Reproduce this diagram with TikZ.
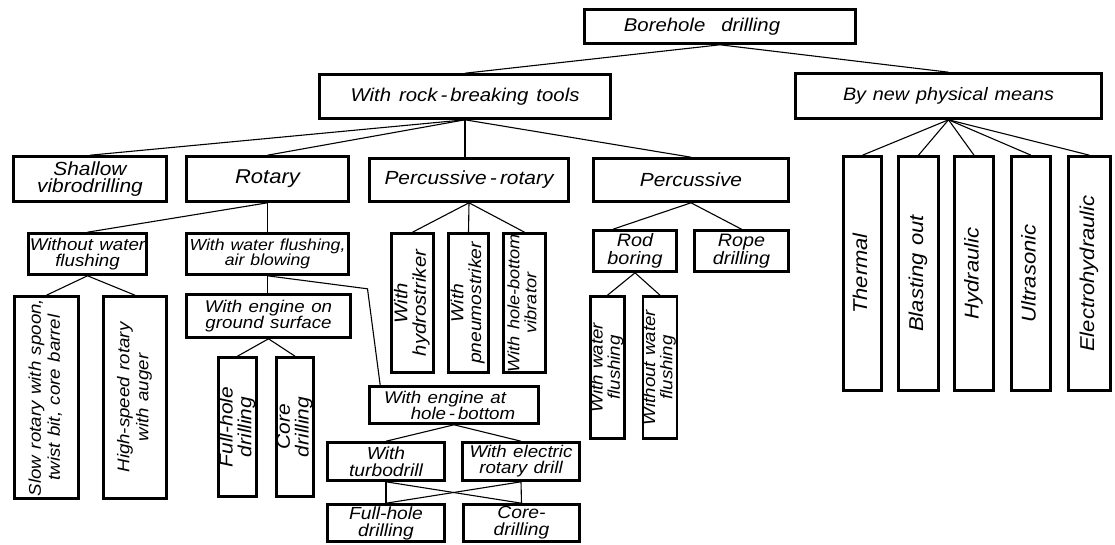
\documentclass[tikz,border=0pt]{standalone}
\usepackage{fontspec}
\usepackage{graphicx}
\setmainfont{Liberation Sans}[FakeStretch=1.1,WordSpace=1.25]
\usetikzlibrary{calc}
\newcommand{\vlab}[1]{\rotatebox{90}{\begin{tabular}{@{}c@{}}#1\end{tabular}}}

\begin{document}
\begin{tikzpicture}[x=1pt,y=-1pt,
   blk/.style={draw, line width=2.6pt, inner sep=0pt, align=center,
     font=\itshape\fontsize{17}{16}\selectfont},
   bx/.style 2 args={minimum width=#1pt, minimum height=#2pt},
   fs/.style 2 args={font=\itshape\fontsize{#1}{#2}\selectfont},
   link/.style={line width=1.1pt}
]
\useasboundingbox (0,0) rectangle (1115,544);

\node[blk, fs={18.5}{16}, bx={271}{34}] (bore) at (720,26.5) {Borehole\hspace{16pt}drilling\hspace*{36pt}};
\node[blk, fs={18.5}{16}, bx={291}{44}] (rock) at (465,96.5) {With\hspace{8pt}rock\,-\,breaking\hspace{8pt}tools};
\node[blk, fs={18}{16}, bx={306}{45}] (phys) at (948.5,96) {By new physical means};

\node[blk, fs={19}{17}, bx={153}{45}] (shal) at (90,179) {Shallow\\vibrodrilling};
\node[blk, fs={20}{17}, bx={162}{45}] (rot) at (267.5,179) {Rotary};
\node[blk, fs={19}{17}, bx={199}{43}] (prot) at (469,180) {Percussive\,-\,rotary};
\node[blk, fs={19}{17}, bx={195}{43}] (perc) at (691,180) {Percussive};

\node[blk, bx={118}{41}] (nowat) at (87.5,254) {Without water\\flushing};
\node[blk, fs={16}{15}, bx={162}{41}] (wat) at (267.5,254) {With water flushing,\\air blowing};
\node[blk, fs={17}{19}, bx={64}{202}] (slow) at (46.5,397.5) {\vlab{Slow rotary with spoon,\\twist bit, core barrel}};
\node[blk, fs={17}{19}, bx={63}{202}] (fast) at (135,397.5) {\vlab{High-speed rotary\\with auger}};
\node[blk, bx={164}{43}] (gsurf) at (268.5,316) {With engine on\\ground surface};
\node[blk, fs={19}{16}, bx={38}{139}] (gfull) at (237.5,427) {\vlab{Full-hole\\drilling}};
\node[blk, fs={19}{16}, bx={37}{139}] (gcore) at (295,427) {\vlab{Core\\drilling}};

\node[blk, bx={169}{37}] (hbot) at (454,405) {With engine at\hspace*{18pt}\\\hspace*{18pt}hole\,-\,bottom};
\node[blk, fs={17.5}{17}, bx={117}{38}] (turbo) at (386,461.5) {With\\turbodrill};
\node[blk, bx={117}{38}] (elec) at (521,461.5) {With electric\\rotary drill};
\node[blk, fs={17.5}{17}, bx={117}{37}] (bfull) at (386,523) {Full-hole\\drilling};
\node[blk, fs={17.5}{17}, bx={116}{37}] (bcore) at (521.5,523) {Core-\\drilling};

\node[blk, fs={18.5}{17}, bx={42}{139}] (hydr) at (412.5,303) {\vlab{With\\hydrostriker}};
\node[blk, fs={17.5}{17}, bx={40}{139}] (pneu) at (468.5,303) {\vlab{With\\pneumostriker}};
\node[blk, fs={16.5}{17}, bx={42}{139}] (vibr) at (524.5,303) {\vlab{With hole-bottom\\vibrator}};

\node[blk, fs={18}{17.5}, bx={83}{41}] (rod) at (635,251) {Rod\\boring};
\node[blk, fs={18}{17.5}, bx={94}{41}] (rope) at (741.5,251) {Rope\\drilling};
\node[blk, bx={32}{142}] (rwat) at (607.5,367.5) {\vlab{With water\\flushing}};
\node[blk, bx={33}{142}] (rnowat) at (660,367.5) {\vlab{Without water\\flushing}};

\node[blk, fs={20}{18}, bx={38}{234}] (therm) at (862.5,273.5) {\vlab{Thermal}};
\node[blk, fs={20}{18}, bx={40}{234}] (blast) at (918.5,273.5) {\vlab{Blasting out}};
\node[blk, fs={20}{18}, bx={39}{234}] (hydra) at (974,273.5) {\vlab{Hydraulic}};
\node[blk, fs={20}{18}, bx={39}{234}] (ultra) at (1031,273.5) {\vlab{Ultrasonic}};
\node[blk, fs={20}{18}, bx={42}{234}] (electro) at (1089.5,273.5) {\vlab{Electrohydraulic}};

\draw[link] (bore.south) -- (rock.north);
\draw[link] (bore.south) -- (phys.north);
\foreach \c in {shal,rot,perc} \draw[link] (rock.south) -- (\c.north);
\draw[link] (rock.south) -- (rock.south |- prot.north);
\foreach \c in {therm,blast,hydra,ultra,electro} \draw[link] (phys.south) -- (\c.north);

\draw[link] (rot.south) -- (nowat.north);
\draw[link] (rot.south) -- (wat.north);
\draw[link] (nowat.south) -- (slow.north);
\draw[link] (nowat.south) -- (fast.north);
\draw[link] (wat.south) -- (wat.south |- gsurf.north);
\draw[link] (wat.south) -- ++(100,13) -- ($(hbot.north west)+(12,0)$);
\draw[link] (gsurf.south) -- (gfull.north);
\draw[link] (gsurf.south) -- (gcore.north);

\draw[link] (hbot.south) -- (turbo.north);
\draw[link] (hbot.south) -- (elec.north);
\draw[link] (turbo.south) -- (bfull.north);
\draw[link] (turbo.south) -- (bcore.north);
\draw[link] (elec.south) -- (bcore.north);
\draw[link] (elec.south) -- (bfull.north);

\foreach \c in {hydr,pneu,vibr} \draw[link] (prot.south) -- (\c.north);
\draw[link] (perc.south) -- ($(rod.north)+(-22,0)$);
\draw[link] (perc.south) -- (rope.north);
\draw[link] (rod.south) -- (rwat.north);
\draw[link] (rod.south) -- (rnowat.north);
\end{tikzpicture}
\end{document}
